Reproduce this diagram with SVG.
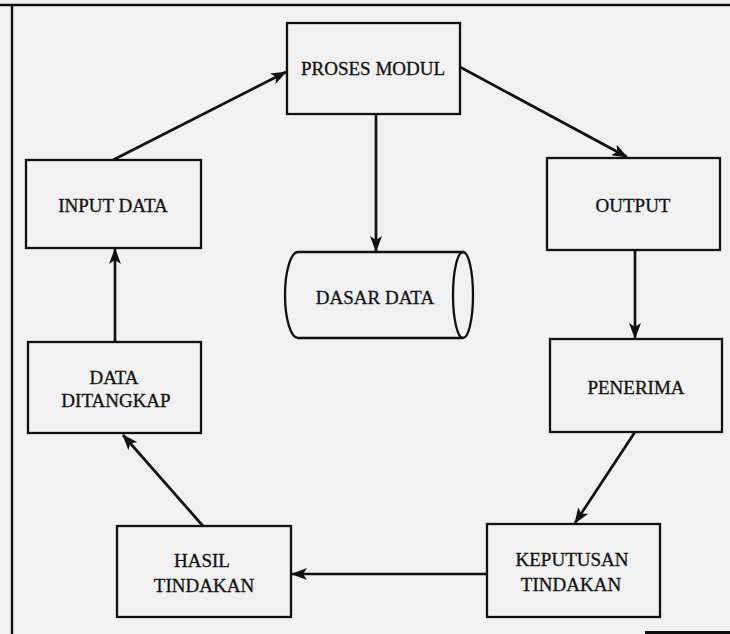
<svg xmlns="http://www.w3.org/2000/svg" width="730" height="634" viewBox="0 0 730 634">
<style>
.bg{fill:#f1f1f1}
.box{fill:none;stroke:#111;stroke-width:2.3}
.frame{fill:none;stroke:#111;stroke-width:2.4}
.lbl{font-family:"Liberation Serif","Times New Roman",serif;font-size:19px;fill:#111;stroke:#111;stroke-width:0.3;text-anchor:middle}
.conn{fill:none;stroke:#111;stroke-width:2.7;marker-end:url(#ah)}
</style>
<defs>
<marker id="ah" viewBox="0 0 16 12" refX="15" refY="6" markerWidth="16" markerHeight="12" markerUnits="userSpaceOnUse" orient="auto">
<path d="M0,0 L16,6 L0,12 L4,6 Z" fill="#111"/>
</marker>
</defs>
<rect class="bg" x="0" y="0" width="730" height="634"/>
<g id="frame">
<line class="frame" x1="0" y1="5" x2="730" y2="5"/>
<line class="frame" x1="12" y1="5" x2="12" y2="634"/>
<rect x="645" y="631" width="85" height="3" fill="#111"/>
</g>
<g id="connectors">
<line class="conn" x1="113" y1="160" x2="286" y2="72"/>
<line class="conn" x1="460" y1="67" x2="627" y2="157"/>
<line class="conn" x1="376" y1="114" x2="376" y2="251"/>
<line class="conn" x1="635" y1="250" x2="635" y2="338"/>
<line class="conn" x1="635" y1="432" x2="575" y2="523"/>
<line class="conn" x1="487" y1="574" x2="292" y2="574"/>
<line class="conn" x1="203" y1="526" x2="123" y2="435"/>
<line class="conn" x1="115" y1="342" x2="115" y2="249"/>
</g>
<g id="proses-modul">
<rect class="box" x="287" y="23" width="173" height="91"/>
<text class="lbl" x="373" y="75">PROSES MODUL</text>
</g>
<g id="input-data">
<rect class="box" x="26" y="160" width="175" height="88"/>
<text class="lbl" x="113" y="212">INPUT DATA</text>
</g>
<g id="output">
<rect class="box" x="547" y="158" width="173" height="92"/>
<text class="lbl" x="633" y="212">OUTPUT</text>
</g>
<g id="dasar-data">
<path class="box" d="M298,252 H463 A10,43 0 0 1 463,338 H298 A13,43 0 0 1 298,252 Z"/>
<path class="box" d="M463,252 A10,43 0 0 0 463,338"/>
<text class="lbl" x="375" y="304">DASAR DATA</text>
</g>
<g id="data-ditangkap">
<rect class="box" x="28" y="342" width="173" height="91"/>
<text class="lbl" x="114" y="384">DATA</text>
<text class="lbl" x="116" y="407">DITANGKAP</text>
</g>
<g id="penerima">
<rect class="box" x="550" y="339" width="172" height="93"/>
<text class="lbl" x="636" y="394">PENERIMA</text>
</g>
<g id="hasil-tindakan">
<rect class="box" x="117" y="526" width="174" height="91"/>
<text class="lbl" x="202" y="567">HASIL</text>
<text class="lbl" x="204" y="592">TINDAKAN</text>
</g>
<g id="keputusan-tindakan">
<rect class="box" x="487" y="524" width="173" height="93"/>
<text class="lbl" x="572" y="566">KEPUTUSAN</text>
<text class="lbl" x="571" y="591">TINDAKAN</text>
</g>
</svg>
